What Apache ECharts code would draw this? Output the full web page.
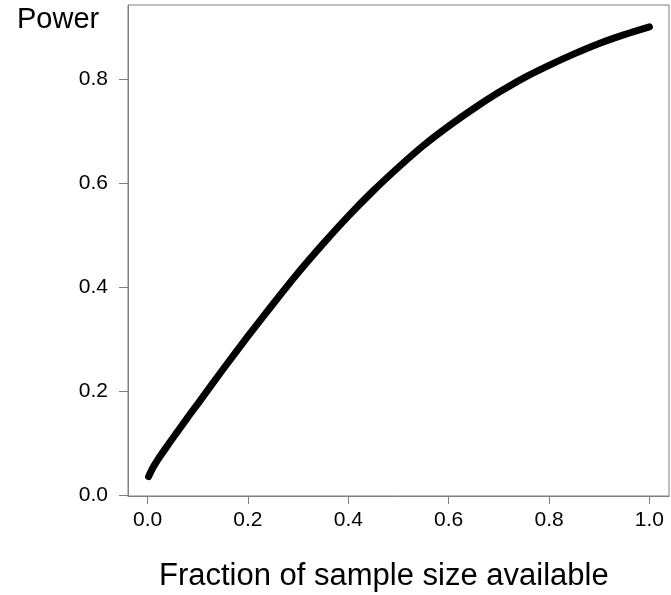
<!DOCTYPE html>
<html>
<head>
<meta charset="utf-8">
<script src="https://cdn.jsdelivr.net/npm/echarts@6/dist/echarts.min.js"></script>
<style>
html,body{margin:0;padding:0;background:#fff;}
#chart{width:671px;height:595px;}
</style>
</head>
<body>
<div id="chart"></div>
<script>
// Data
var fraction = [0.002, 0.01, 0.02, 0.04, 0.06, 0.08, 0.10, 0.15, 0.20, 0.25, 0.30, 0.35, 0.40, 0.45, 0.50, 0.55, 0.60, 0.65, 0.70, 0.75, 0.80, 0.85, 0.90, 0.95, 1.00];
var power    = [0.035, 0.051, 0.067, 0.095, 0.122, 0.149, 0.175, 0.241, 0.305, 0.367, 0.427, 0.483, 0.536, 0.585, 0.630, 0.672, 0.709, 0.743, 0.774, 0.802, 0.826, 0.848, 0.868, 0.885, 0.900];
var xTicks = [0, 0.2, 0.4, 0.6, 0.8, 1.0];
var yTicks = [0, 0.2, 0.4, 0.6, 0.8];
var xTitle = 'Fraction of sample size available';
var yTitle = 'Power';

var FONT = 'Liberation Sans, Arial, sans-serif';
var GRAY = '#7f7f7f';

var chart = echarts.init(document.getElementById('chart'), null, {renderer: 'canvas'});
var pts = fraction.map(function (f, i) { return [f, power[i]]; });

chart.setOption({
  animation: false,
  backgroundColor: '#ffffff',
  grid: {
    left: 128, right: 2, top: 5, bottom: 99,
    show: true, borderColor: GRAY, borderWidth: 1, backgroundColor: 'transparent'
  },
  xAxis: {
    type: 'value', min: -0.039, max: 1.039,
    axisLine: {show: true, onZero: false, lineStyle: {color: GRAY, width: 1}},
    axisTick: {show: true, inside: false, length: 8, customValues: xTicks, lineStyle: {color: GRAY, width: 1}},
    axisLabel: {show: true, customValues: xTicks, margin: 14, color: '#000', fontSize: 21, fontFamily: FONT,
      formatter: function (v) { return v.toFixed(1); }},
    splitLine: {show: false}
  },
  yAxis: {
    type: 'value', min: -0.0023, max: 0.942,
    axisLine: {show: true, onZero: false, lineStyle: {color: GRAY, width: 1}},
    axisTick: {show: true, inside: false, length: 9, customValues: yTicks, lineStyle: {color: GRAY, width: 1}},
    axisLabel: {show: true, customValues: yTicks, margin: 20, color: '#000', fontSize: 21, fontFamily: FONT,
      formatter: function (v) { return v.toFixed(1); }},
    splitLine: {show: false}
  },
  graphic: [
    {type: 'text', left: 17, top: 5, style: {text: yTitle, fill: '#000', fontSize: 29, fontFamily: FONT}},
    {type: 'text', left: 159, top: 561, style: {text: xTitle, fill: '#000', fontSize: 31, fontFamily: FONT}}
  ],
  series: [{
    type: 'line',
    data: pts,
    smooth: 0.3,
    showSymbol: false,
    clip: false,
    lineStyle: {color: '#000', width: 7, cap: 'round', join: 'round'}
  }]
});
</script>
</body>
</html>
